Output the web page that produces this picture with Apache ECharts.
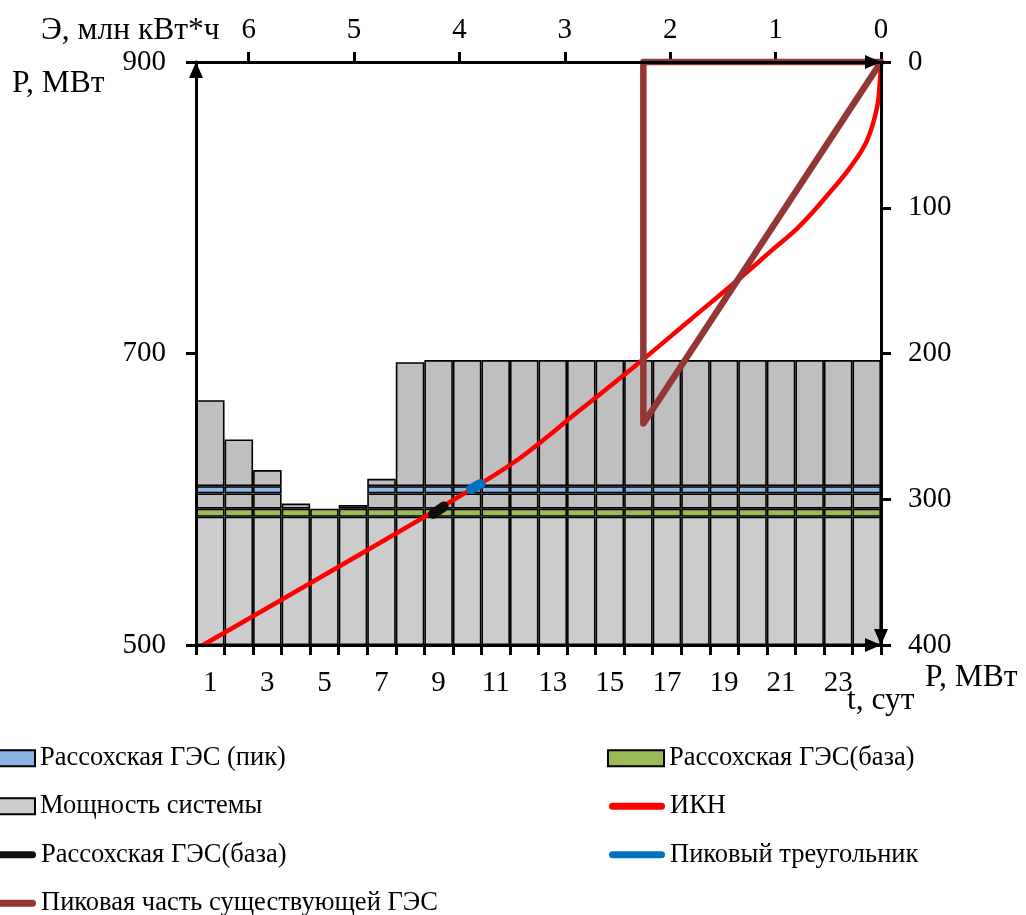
<!DOCTYPE html>
<html><head><meta charset="utf-8">
<script src="https://cdn.jsdelivr.net/npm/echarts@6/dist/echarts.min.js"></script>
<style>html,body{margin:0;padding:0;background:#fff}#c{width:1026px;height:915px}</style>
</head><body><div id="c"></div>
<script>
// ---- data ----
const hours = ['1','2','3','4','5','6','7','8','9','10','11','12','13','14','15','16','17','18','19','20','21','22','23','24'];
const systemLoad = [668, 641, 620, 597, 593.5, 596, 614, 694, 695.5, 695.5, 695.5, 695.5, 695.5, 695.5, 695.5, 695.5, 695.5, 695.5, 695.5, 695.5, 695.5, 695.5, 695.5, 695.5];
const baseBandBottom = 588;   // Рассохская ГЭС (база), МВт
const baseBandTop = 593.5;
const peakBandBottom = 604;   // Рассохская ГЭС (пик), МВт
const peakBandTop = 609;
const powerTicksLeft = [500, 700, 900];
const powerTicksRight = [0, 100, 200, 300, 400];
const energyTicks = [0, 1, 2, 3, 4, 5, 6];
// ИКН: energy (млн кВт*ч) vs power (МВт, right axis)
const iknE = [0, 0.0095, 0.038, 0.133, 0.294, 0.455, 0.768, 1.053, 1.357, 1.812, 2.287, 2.856, 3.425, 3.805, 4.250, 5.323, 6.433];
const iknP = [0, 12.3, 31.3, 53.9, 72.5, 86.9, 112.3, 130.3, 149.4, 177.0, 205.8, 238.8, 271.7, 289.5, 308.7, 353.7, 400];
const baseSegE = [4.25, 4.15];
const baseSegP = [310, 305];
const peakTriE = [3.89, 3.80];
const peakTriP = [293, 289.5];
const hesPeakE = [0, 2.255, 2.255, 0];
const hesPeakP = [0, 0, 248, 0];

// ---- derived stack segments ----
const segLower = systemLoad.map(v => Math.min(v, baseBandBottom));
const segBase = systemLoad.map(v => v > baseBandBottom ? Math.min(v, baseBandTop) - baseBandBottom : null);
const segMid = systemLoad.map(v => v > baseBandTop ? Math.min(v, peakBandBottom) - baseBandTop : null);
const segPeak = systemLoad.map(v => v > peakBandBottom ? Math.min(v, peakBandTop) - peakBandBottom : null);
const segTop = systemLoad.map(v => v > peakBandTop ? v - peakBandTop : null);
const pairs = (xs, ys) => xs.map((x, i) => [x, ys[i]]);

const FONT = 'Liberation Serif';
const AX = 29;
const NM = 31.5;
const LEG = 26.5;
const barBorder = {borderColor: '#000', borderWidth: 1.6};
const axisLineStyle = {color: '#000', width: 3};
const tickStyle = {color: '#000', width: 3};
const lbl = () => ({color: '#000', fontFamily: FONT, fontSize: AX});

function barSeries(name, data, color) {
  return {name, type: 'bar', stack: 'p', data, barWidth: '100%', barCategoryGap: 0,
    xAxisIndex: 0, yAxisIndex: 0, itemStyle: Object.assign({color}, barBorder), emphasis: {disabled: true}, animation: false};
}
function lineSeries(name, data, color, width, smooth) {
  return {name, type: 'line', data, xAxisIndex: 1, yAxisIndex: 1, showSymbol: false, symbol: 'none', smooth: smooth || false,
    color, itemStyle: {color}, lineStyle: {color, width, cap: 'round', join: 'round'}, clip: false, animation: false, emphasis: {disabled: true}};
}
const pill = 'path://M3.5,0H52.5A3.5,3.5,0,0,1,52.5,7H3.5A3.5,3.5,0,0,1,3.5,0Z';
function leg(name, left, center, isLine) {
  return {data: [{name, icon: isLine ? pill : 'rect'}], left: isLine ? left + 2 : left, top: center - LEG / 2, padding: 0, selectedMode: false,
    itemWidth: 56, itemHeight: isLine ? 7 : 16,
    itemStyle: isLine ? {borderWidth: 0} : {borderColor: '#000', borderWidth: 2},
    textStyle: {fontFamily: FONT, fontSize: LEG, color: '#000'}};
}
const BASE_LINE_NAME = 'Рассохская ГЭС(база)\u200B';
const nameFont = NM + 'px "' + FONT + '"';
// tick-only helper axes: plain visible line (no arrow), no labels
const tickAxisBase = () => ({axisLine: {show: true, onZero: false, lineStyle: {color: '#000', width: 3}}, axisLabel: {show: false}, splitLine: {show: false}});

const chart = echarts.init(document.getElementById('c'), null, {renderer: 'canvas'});
chart.setOption({
  backgroundColor: '#fff',
  animation: false,
  grid: {left: 196, right: 145, top: 62, bottom: 270},
  xAxis: [
    {type: 'category', position: 'bottom', data: hours, boundaryGap: true, z: 5,
      axisLine: {onZero: false, lineStyle: axisLineStyle, symbol: ['none', 'triangle'], symbolSize: [14, 16], symbolOffset: [0, -8]},
      axisTick: {show: false},
      axisLabel: Object.assign({interval: 1, margin: 24}, lbl()), splitLine: {show: false}},
    {type: 'value', position: 'top', inverse: true, min: 0, max: 6.5, interval: 1, z: 5,
      axisLine: {onZero: false, lineStyle: axisLineStyle, symbol: ['none', 'triangle'], symbolSize: [14, 16], symbolOffset: [0, -8]},
      axisTick: {show: false},
      axisLabel: Object.assign({customValues: energyTicks, margin: 17}, lbl()), splitLine: {show: false}},
    Object.assign({type: 'category', position: 'bottom', data: hours, boundaryGap: true,
      axisTick: {show: true, interval: 0, length: 10, lineStyle: tickStyle}}, tickAxisBase()),
    Object.assign({type: 'value', position: 'top', inverse: true, min: 0, max: 6.5, interval: 1,
      axisTick: {show: true, customValues: energyTicks, length: 10, lineStyle: tickStyle}}, tickAxisBase())
  ],
  yAxis: [
    {type: 'value', position: 'left', min: 500, max: 900, interval: 200, startValue: 500, z: 5,
      axisLine: {show: true, onZero: false, lineStyle: axisLineStyle, symbol: ['none', 'triangle'], symbolSize: [14, 16], symbolOffset: [0, -8]},
      axisTick: {show: false},
      axisLabel: Object.assign({customValues: powerTicksLeft, margin: 30}, lbl()), splitLine: {show: false}},
    {type: 'value', position: 'right', inverse: true, min: 0, max: 400, interval: 100, z: 5,
      axisLine: {show: true, onZero: false, lineStyle: axisLineStyle, symbol: ['triangle', 'none'], symbolSize: [14, 16], symbolOffset: [8, 0]},
      axisTick: {show: true, customValues: powerTicksRight, length: 10, lineStyle: tickStyle},
      axisLabel: Object.assign({customValues: powerTicksRight, margin: 27}, lbl()), splitLine: {show: false}},
    Object.assign({type: 'value', position: 'left', min: 500, max: 900, interval: 200,
      axisTick: {show: true, length: 10, lineStyle: tickStyle}}, tickAxisBase())
  ],
  legend: [
    leg('Рассохская ГЭС (пик)', -22, 758, false),
    leg('Рассохская ГЭС(база)', 607, 758, false),
    leg('Мощность системы', -22, 806, false),
    leg('ИКН', 607, 806, true),
    leg(BASE_LINE_NAME, -22, 854.5, true),
    leg('Пиковый треугольник', 607, 854.5, true),
    leg('Пиковая часть существующей ГЭС', -22, 903, true)
  ],
  graphic: [
    {type: 'text', left: 41, top: 15, style: {text: 'Э, млн кВт*ч', font: nameFont, fill: '#000'}},
    {type: 'text', left: 12, top: 68, style: {text: 'P, МВт', font: nameFont, fill: '#000'}},
    {type: 'text', left: 925, top: 662, style: {text: 'P, МВт', font: nameFont, fill: '#000'}},
    {type: 'text', left: 847, top: 685, style: {text: 't, сут', font: nameFont, fill: '#000'}}
  ],
  series: [
    barSeries('Мощность системы', segLower, '#cccccc'),
    barSeries('Рассохская ГЭС(база)', segBase, '#9bbb59'),
    barSeries('Мощность системы (ср.)', segMid, '#bfbfbf'),
    barSeries('Рассохская ГЭС (пик)', segPeak, '#8db4e2'),
    barSeries('Мощность системы (верх)', segTop, '#bfbfbf'),
    lineSeries('ИКН', pairs(iknE, iknP), '#ff0000', 4.5, 0.4),
    lineSeries('Пиковая часть существующей ГЭС', pairs(hesPeakE, hesPeakP), '#943634', 6.5, false),
    lineSeries(BASE_LINE_NAME, pairs(baseSegE, baseSegP), '#0d0d0d', 10, false),
    lineSeries('Пиковый треугольник', pairs(peakTriE, peakTriP), '#0070c0', 10, false)
  ]
});
</script>
</body></html>
